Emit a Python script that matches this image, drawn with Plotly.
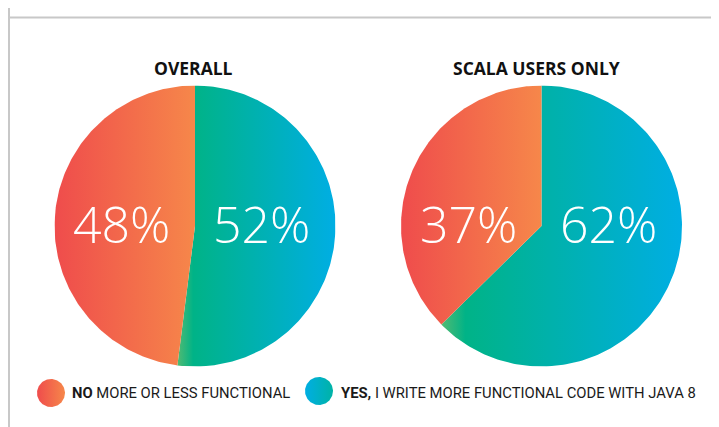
import numpy as np
import plotly.graph_objects as go

# ---- data ----
categories = ["NO", "YES,"]
legend_rest = [" MORE OR LESS FUNCTIONAL", " I WRITE MORE FUNCTIONAL CODE WITH JAVA 8"]
panel_titles = ["OVERALL", "SCALA USERS ONLY"]
overall_pct = [48, 52]
scala_pct = [37, 62]

# ---- styles ----
W, H = 719, 427
OFF = 8  # page body margin compensation
grad_no = [[0, "#EF4C4C"], [1, "#F6874A"]]
grad_yes = [[0, "#52BA72"], [0.1, "#00B387"], [1, "#00AEE3"]]
legend_grad = [[[0, "#EF4C4C"], [1, "#F6874A"]], [[0, "#00AEE3"], [1, "#00B3A6"]]]
label_offsets = [-0.52, 0.475]
label_dy = 0.017

fig = go.Figure()


def wedge(a0, a1, n=200):
    # angles clockwise from top, in degrees
    t = np.radians(np.linspace(a0, a1, n))
    x = np.concatenate([[0], np.sin(t), [0]])
    y = np.concatenate([[0], np.cos(t), [0]])
    return x, y


def add_pie(values, xa, ya):
    total = float(sum(values))
    yes_deg = values[1] / total * 360
    x, y = wedge(0, yes_deg)
    fig.add_trace(go.Scatter(x=x, y=y, xaxis=xa, yaxis=ya, mode="lines", line=dict(width=0),
                             fill="toself", fillgradient=dict(type="horizontal", colorscale=grad_yes),
                             hoverinfo="skip", showlegend=False))
    x, y = wedge(yes_deg, 360)
    fig.add_trace(go.Scatter(x=x, y=y, xaxis=xa, yaxis=ya, mode="lines", line=dict(width=0),
                             fill="toself", fillgradient=dict(type="horizontal", colorscale=grad_no),
                             hoverinfo="skip", showlegend=False))
    for v, off in zip(values, label_offsets):
        fig.add_annotation(x=off, y=label_dy, xref=xa, yref=ya, text=f"{v}%",
                           showarrow=False,
                           font=dict(family="Open Sans", size=50, color="white", weight=300),
                           xanchor="center", yanchor="middle")


add_pie(overall_pct, "x", "y")
add_pie(scala_pct, "x2", "y2")


def px(v):
    return (v - OFF) / W


def py(v):
    return (H - (v - OFF)) / H


# legend circles on a pixel overlay axis
t = np.linspace(0, 2 * np.pi, 120)
for (cx, cy), cs in zip([(51, 393), (319, 391)], legend_grad):
    fig.add_trace(go.Scatter(x=cx - OFF + 14 * np.cos(t), y=cy - OFF + 14 * np.sin(t),
                             xaxis="x3", yaxis="y3",
                             mode="lines", line=dict(width=0), fill="toself",
                             fillgradient=dict(type="horizontal", colorscale=cs),
                             hoverinfo="skip", showlegend=False))

r = 140.5
c1 = (195, 226)
c2 = (541.5, 226)
ax_hidden = dict(visible=False, range=[-1, 1], fixedrange=True)
fig.update_layout(
    width=W, height=H, margin=dict(l=0, r=0, t=0, b=0),
    paper_bgcolor="white", plot_bgcolor="rgba(0,0,0,0)",
    xaxis=dict(ax_hidden, domain=[px(c1[0] - r), px(c1[0] + r)]),
    yaxis=dict(ax_hidden, domain=[py(c1[1] + r), py(c1[1] - r)]),
    xaxis2=dict(ax_hidden, domain=[px(c2[0] - r), px(c2[0] + r)]),
    yaxis2=dict(ax_hidden, domain=[py(c2[1] + r), py(c2[1] - r)]),
    xaxis3=dict(visible=False, range=[0, W], domain=[0, 1], fixedrange=True),
    yaxis3=dict(visible=False, range=[H, 0], domain=[0, 1], fixedrange=True),
    showlegend=False,
)

# panel titles
for title, cx in zip(panel_titles, [193, 536]):
    fig.add_annotation(x=px(cx), y=py(67.5), xref="paper", yref="paper", text=f"<b>{title}</b>",
                       showarrow=False, font=dict(family="Open Sans", size=17.5, color="#111111"),
                       xanchor="center", yanchor="middle")

# legend texts
for cat, rest, x0 in zip(categories, legend_rest, [70, 339]):
    fig.add_annotation(x=px(x0), y=py(393), xref="paper", yref="paper",
                       text=f"<b>{cat}</b>{rest}", showarrow=False,
                       font=dict(family="Roboto", size=14.8, color="#1a1a1a"),
                       xanchor="left", yanchor="middle")

# frame lines
fig.add_shape(type="line", xref="paper", yref="paper", x0=px(9), x1=px(9), y0=0, y1=1,
              line=dict(color="#c8c8c8", width=2))
fig.add_shape(type="line", xref="paper", yref="paper", x0=px(9), x1=1, y0=py(17.5), y1=py(17.5),
              line=dict(color="#c8c8c8", width=2))

fig.write_html("out.html")
